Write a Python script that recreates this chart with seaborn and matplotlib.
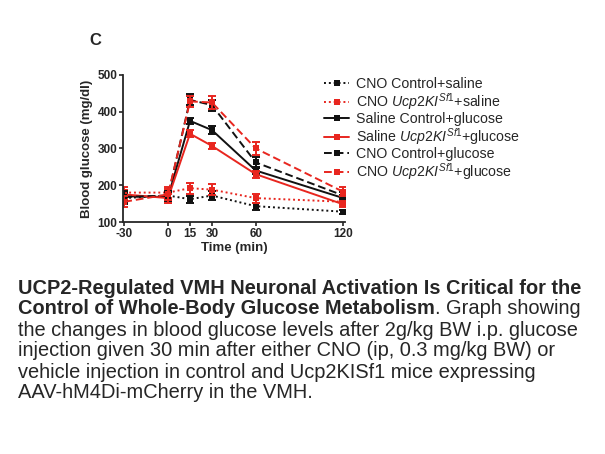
import matplotlib
matplotlib.use("Agg")
import matplotlib.pyplot as plt
import pandas as pd
import seaborn as sns

sns.set_style("ticks")
plt.rcParams["font.family"] = ["Liberation Sans", "DejaVu Sans"]
plt.rcParams["mathtext.fontset"] = "custom"
plt.rcParams["mathtext.rm"] = "Liberation Sans"
plt.rcParams["mathtext.it"] = "Liberation Sans:italic"
plt.rcParams["axes.unicode_minus"] = False

# Time points (min)
time = [-30, 0, 15, 30, 60, 120]

# Mean blood glucose (mg/dl) per group
cno_ctrl_saline = [165, 172, 162, 172, 143, 128]
cno_ki_saline = [180, 180, 192, 188, 165, 155]
sal_ctrl_glucose = [170, 168, 375, 350, 240, 165]
sal_ki_glucose = [175, 165, 340, 307, 230, 148]
cno_ctrl_glucose = [168, 172, 432, 418, 262, 172]
cno_ki_glucose = [155, 175, 428, 425, 300, 182]

# SEM per group
sem_cno_ctrl_saline = [15, 10, 10, 12, 10, 6]
sem_cno_ki_saline = [15, 15, 15, 15, 12, 10]
sem_sal_ctrl_glucose = [12, 10, 8, 12, 10, 8]
sem_sal_ki_glucose = [12, 12, 10, 8, 10, 8]
sem_cno_ctrl_glucose = [15, 12, 15, 15, 15, 10]
sem_cno_ki_glucose = [15, 15, 15, 18, 18, 12]

labels = [
    "CNO Control+saline",
    r"CNO $\mathit{Ucp2KI}^{\mathit{Sf1}}$+saline",
    "Saline Control+glucose",
    r"Saline $\mathit{Ucp2KI}^{\mathit{Sf1}}$+glucose",
    "CNO Control+glucose",
    r"CNO $\mathit{Ucp2KI}^{\mathit{Sf1}}$+glucose",
]
means = [cno_ctrl_saline, cno_ki_saline, sal_ctrl_glucose,
         sal_ki_glucose, cno_ctrl_glucose, cno_ki_glucose]
sems = [sem_cno_ctrl_saline, sem_cno_ki_saline, sem_sal_ctrl_glucose,
        sem_sal_ki_glucose, sem_cno_ctrl_glucose, sem_cno_ki_glucose]

black = "#111111"
red = "#e8261f"
colors = [black, red, black, red, black, red]
styles = [(0, (1, 1.5)), (0, (1, 1.5)), "-", "-", (0, (4, 2)), (0, (4, 2))]

fig = plt.figure(figsize=(6.05, 4.54), dpi=100)
ax = fig.add_axes([0.203, 0.511, 0.367, 0.324])

for lab, m, s, c, ls in zip(labels, means, sems, colors, styles):
    df = pd.DataFrame({"time": time, "glucose": m})
    sns.lineplot(data=df, x="time", y="glucose", ax=ax, color=c, linestyle=ls,
                 linewidth=1.4, marker="s", markersize=5, markeredgewidth=0,
                 label=lab)
    ax.errorbar(time, m, yerr=s, fmt="none", ecolor=c, elinewidth=1.4,
                capsize=3, capthick=1.4)

ax.set_xlim(-31, 121)
ax.set_ylim(100, 500)
ax.set_xticks(time)
ax.set_yticks([100, 200, 300, 400, 500])
ax.tick_params(labelsize=8.5, width=1.2, length=3, pad=1)
for lbl in ax.get_xticklabels() + ax.get_yticklabels():
    lbl.set_fontweight("bold")
ax.set_xlabel("Time (min)", fontsize=9.5, fontweight="bold", labelpad=2)
ax.set_ylabel("Blood glucose (mg/dl)", fontsize=9.5, fontweight="bold", labelpad=3)
for sp in ["left", "bottom"]:
    ax.spines[sp].set_linewidth(1.3)
sns.despine(ax=ax)

ax.legend(loc="upper left", bbox_to_anchor=(0.905, 0.985), frameon=False,
          fontsize=10.2, handlelength=1.8, handletextpad=0.45, labelspacing=0.0,
          borderaxespad=0, borderpad=0)

fig.text(0.157, 0.91, "C", fontsize=12, fontweight="bold", ha="center", va="center")

# Caption
fs = 14.4
x0 = 18 / 605
line_y = [288, 309, 330, 351, 372, 393]
fig.text(x0, 1 - line_y[0] / 454, "UCP2-Regulated VMH Neuronal Activation Is Critical for the",
         fontsize=fs, fontweight="bold", va="center")
bold2 = fig.text(x0, 1 - line_y[1] / 454, "Control of Whole-Body Glucose Metabolism",
                 fontsize=fs, fontweight="bold", va="center")
renderer = fig.canvas.get_renderer()
bb = bold2.get_window_extent(renderer=renderer)
fig.text(bb.x1 / (6.05 * 100), 1 - line_y[1] / 454, ". Graph showing",
         fontsize=fs, va="center")
rest = [
    "the changes in blood glucose levels after 2g/kg BW i.p. glucose",
    "injection given 30 min after either CNO (ip, 0.3 mg/kg BW) or",
    "vehicle injection in control and Ucp2KISf1 mice expressing",
    "AAV-hM4Di-mCherry in the VMH.",
]
for yy, t in zip(line_y[2:], rest):
    fig.text(x0, 1 - yy / 454, t, fontsize=fs, va="center")

fig.savefig("out.png", dpi=100)
